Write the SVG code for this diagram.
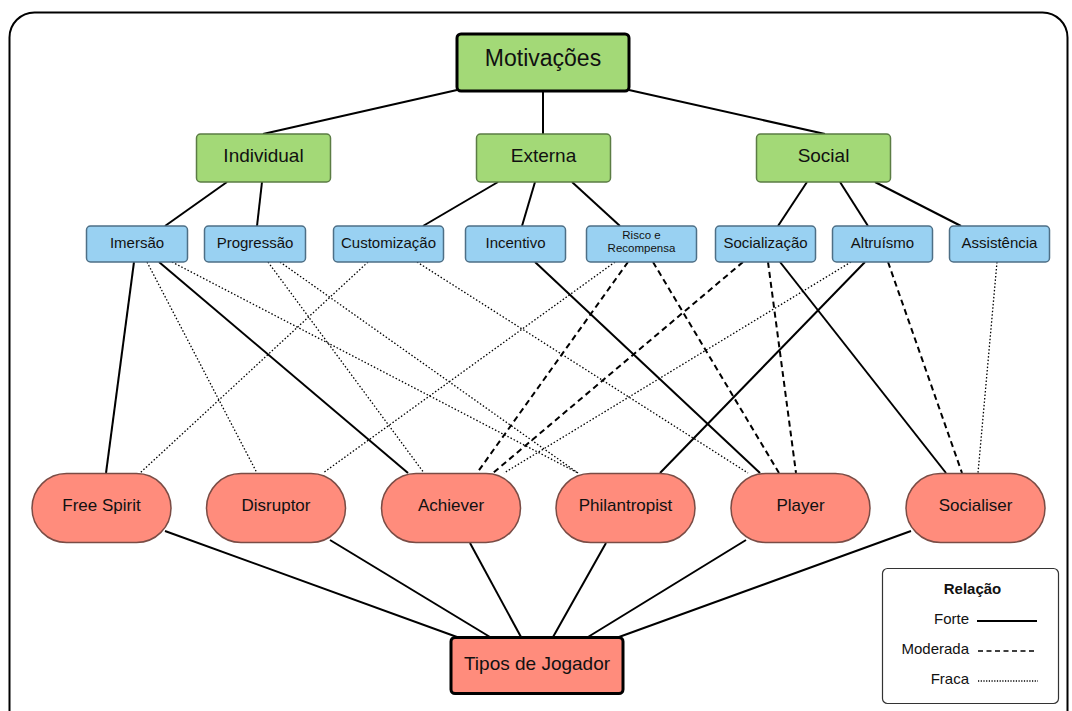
<svg xmlns="http://www.w3.org/2000/svg" width="1072" height="711" viewBox="0 0 1072 711">
  <style>
    text { font-family: "Liberation Sans", Arial, sans-serif; fill: #111; text-anchor: middle; }
    .frame { fill: #fff; stroke: #000; stroke-width: 2; }
    .root { fill: #a3d977; stroke: #000; stroke-width: 3; }
    .cat { fill: #a3d977; stroke: #5b7c44; stroke-width: 1.5; }
    .sub { fill: #99d1f2; stroke: #4e6f86; stroke-width: 1.5; }
    .type { fill: #ff8c7c; stroke: #7a4c45; stroke-width: 1.5; }
    .base { fill: #ff8c7c; stroke: #000; stroke-width: 3; }
    .legend { fill: #fff; stroke: #333; stroke-width: 1.2; }
    .strong { stroke: #000; stroke-width: 2; fill: none; }
    .moderate { stroke: #000; stroke-width: 2; stroke-dasharray: 6 4; fill: none; }
    .weak { stroke: #000; stroke-width: 1.3; stroke-dasharray: 1.5 2; fill: none; }
    .t-root { font-size: 23px; }
    .t-cat { font-size: 19px; }
    .t-sub { font-size: 15px; }
    .t-small { font-size: 11.5px; }
    .t-type { font-size: 17px; }
    .t-base { font-size: 19px; }
    .t-leg { font-size: 15px; }
    .end { text-anchor: end; }
  </style>

  <rect class="frame" x="9.5" y="12.5" width="1058" height="730" rx="25"/>

  <!-- connectors -->
  <g id="connectors">
    <!-- hierarchy -->
    <line class="strong" x1="457" y1="90" x2="263" y2="134"/>
    <line class="strong" x1="543" y1="91" x2="543" y2="134"/>
    <line class="strong" x1="629" y1="90" x2="825" y2="134"/>
    <line class="strong" x1="227" y1="182" x2="165" y2="226"/>
    <line class="strong" x1="262" y1="182" x2="257" y2="226"/>
    <line class="strong" x1="498" y1="182" x2="423" y2="226"/>
    <line class="strong" x1="535" y1="182" x2="522" y2="226"/>
    <line class="strong" x1="572" y1="182" x2="620" y2="226"/>
    <line class="strong" x1="807" y1="182" x2="778" y2="226"/>
    <line class="strong" x1="840" y1="182" x2="868" y2="226"/>
    <line class="strong" x1="875" y1="182" x2="961" y2="226"/>

    <!-- motivation to player type -->
    <line class="strong" x1="134" y1="262" x2="106" y2="473"/>
    <line class="weak" x1="147" y1="262" x2="257" y2="473"/>
    <line class="strong" x1="159" y1="262" x2="408" y2="473"/>
    <line class="weak" x1="172" y1="262" x2="578" y2="473"/>
    <line class="weak" x1="268" y1="262" x2="424" y2="473"/>
    <line class="weak" x1="280" y1="262" x2="578" y2="473"/>
    <line class="weak" x1="368" y1="262" x2="140" y2="473"/>
    <line class="weak" x1="417" y1="262" x2="748" y2="473"/>
    <line class="strong" x1="535" y1="262" x2="760" y2="473"/>
    <line class="weak" x1="615" y1="262" x2="323" y2="473"/>
    <line class="moderate" x1="628" y1="262" x2="477" y2="473"/>
    <line class="moderate" x1="653" y1="262" x2="779" y2="473"/>
    <line class="moderate" x1="743" y1="262" x2="493" y2="473"/>
    <line class="moderate" x1="768" y1="262" x2="796" y2="473"/>
    <line class="strong" x1="780" y1="262" x2="946" y2="473"/>
    <line class="weak" x1="851" y1="262" x2="504" y2="473"/>
    <line class="strong" x1="865" y1="262" x2="660" y2="473"/>
    <line class="moderate" x1="888" y1="262" x2="962" y2="473"/>
    <line class="weak" x1="997" y1="262" x2="978" y2="473"/>

    <!-- player types to base -->
    <line class="strong" x1="165" y1="531" x2="457" y2="637"/>
    <line class="strong" x1="330" y1="540" x2="490" y2="637"/>
    <line class="strong" x1="470" y1="543" x2="521" y2="637"/>
    <line class="strong" x1="606" y1="543" x2="553" y2="637"/>
    <line class="strong" x1="746" y1="540" x2="588" y2="637"/>
    <line class="strong" x1="911" y1="531" x2="619" y2="637"/>
  </g>

  <!-- root -->
  <g id="motivacoes">
    <rect class="root" x="457" y="34" width="172" height="57" rx="4"/>
    <text class="t-root" x="543" y="66">Motivações</text>
  </g>

  <!-- categories -->
  <g id="individual">
    <rect class="cat" x="196.5" y="134" width="134" height="48" rx="4"/>
    <text class="t-cat" x="263.5" y="162">Individual</text>
  </g>
  <g id="externa">
    <rect class="cat" x="476.5" y="134" width="134" height="48" rx="4"/>
    <text class="t-cat" x="543.5" y="162">Externa</text>
  </g>
  <g id="social">
    <rect class="cat" x="756.5" y="134" width="134" height="48" rx="4"/>
    <text class="t-cat" x="823.5" y="162">Social</text>
  </g>

  <!-- motivations -->
  <g id="imersao">
    <rect class="sub" x="86.5" y="226" width="101" height="36" rx="4"/>
    <text class="t-sub" x="137" y="247.5">Imersão</text>
  </g>
  <g id="progressao">
    <rect class="sub" x="204.5" y="226" width="101" height="36" rx="4"/>
    <text class="t-sub" x="255" y="247.5">Progressão</text>
  </g>
  <g id="customizacao">
    <rect class="sub" x="333.5" y="226" width="110" height="36" rx="4"/>
    <text class="t-sub" x="388.5" y="247.5">Customização</text>
  </g>
  <g id="incentivo">
    <rect class="sub" x="465.5" y="226" width="100" height="36" rx="4"/>
    <text class="t-sub" x="515.5" y="247.5">Incentivo</text>
  </g>
  <g id="risco-recompensa">
    <rect class="sub" x="586.5" y="226" width="110" height="36" rx="4"/>
    <text class="t-small" x="641.5" y="239">Risco e</text>
    <text class="t-small" x="641.5" y="252">Recompensa</text>
  </g>
  <g id="socializacao">
    <rect class="sub" x="715.5" y="226" width="100" height="36" rx="4"/>
    <text class="t-sub" x="765.5" y="247.5">Socialização</text>
  </g>
  <g id="altruismo">
    <rect class="sub" x="832.5" y="226" width="100" height="36" rx="4"/>
    <text class="t-sub" x="882.5" y="247.5">Altruísmo</text>
  </g>
  <g id="assistencia">
    <rect class="sub" x="949.5" y="226" width="100" height="36" rx="4"/>
    <text class="t-sub" x="999.5" y="247.5">Assistência</text>
  </g>

  <!-- player types -->
  <g id="free-spirit">
    <rect class="type" x="32" y="473.5" width="139" height="69" rx="34.5"/>
    <text class="t-type" x="101.5" y="511">Free Spirit</text>
  </g>
  <g id="disruptor">
    <rect class="type" x="206.5" y="473.5" width="139" height="69" rx="34.5"/>
    <text class="t-type" x="276" y="511">Disruptor</text>
  </g>
  <g id="achiever">
    <rect class="type" x="381.5" y="473.5" width="139" height="69" rx="34.5"/>
    <text class="t-type" x="451" y="511">Achiever</text>
  </g>
  <g id="philantropist">
    <rect class="type" x="556" y="473.5" width="139" height="69" rx="34.5"/>
    <text class="t-type" x="625.5" y="511">Philantropist</text>
  </g>
  <g id="player">
    <rect class="type" x="731" y="473.5" width="139" height="69" rx="34.5"/>
    <text class="t-type" x="800.5" y="511">Player</text>
  </g>
  <g id="socialiser">
    <rect class="type" x="906" y="473.5" width="139" height="69" rx="34.5"/>
    <text class="t-type" x="975.5" y="511">Socialiser</text>
  </g>

  <!-- base -->
  <g id="tipos-de-jogador">
    <rect class="base" x="451" y="637.5" width="172" height="56" rx="4"/>
    <text class="t-base" x="537" y="669.5">Tipos de Jogador</text>
  </g>

  <!-- legend -->
  <g id="legenda">
    <rect class="legend" x="882.5" y="568.5" width="176" height="135" rx="5"/>
    <text class="t-leg" x="972.5" y="594" font-weight="bold">Relação</text>
    <text class="t-leg end" x="969" y="624">Forte</text>
    <line class="strong" x1="977" y1="621" x2="1037" y2="621"/>
    <text class="t-leg end" x="969" y="654">Moderada</text>
    <line class="moderate" x1="978" y1="651" x2="1037" y2="651" style="stroke-width:1.6;stroke-dasharray:5 3.5"/>
    <text class="t-leg end" x="969" y="684">Fraca</text>
    <line class="weak" x1="978" y1="681" x2="1038" y2="681" style="stroke-dasharray:1.2 1.5"/>
  </g>
</svg>
